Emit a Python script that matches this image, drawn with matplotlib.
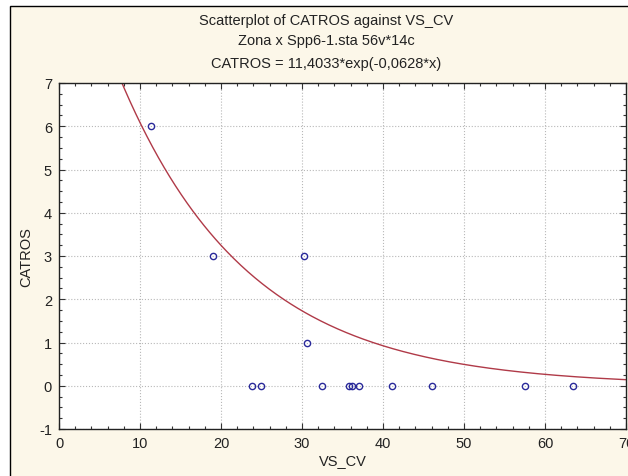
import numpy as np
import matplotlib.pyplot as plt
from matplotlib.patches import Rectangle
from matplotlib.ticker import MultipleLocator

plt.rcParams['font.family'] = ['Liberation Sans', 'DejaVu Sans']
plt.rcParams['axes.unicode_minus'] = False

# cases read from the worksheet
vs_cv = [11.3, 19.0, 30.3, 30.6, 23.8, 24.9, 32.5, 35.8, 36.2, 37.0, 41.1, 46.0, 57.5, 63.4]
catros = [6, 3, 3, 1, 0, 0, 0, 0, 0, 0, 0, 0, 0, 0]

# fitted exponential model
a_coef = 11.4033
b_coef = -0.0628

fig = plt.figure(figsize=(6.28, 4.77), dpi=100, facecolor='white')
W, H = 628, 477

# cream panel with black frame, kept behind the axes
frame = Rectangle((10 / W, -0.01), 1.0, (477 - 7) / H + 0.01, transform=fig.transFigure,
                  facecolor='#fcf7e9', edgecolor='black', linewidth=1.0, zorder=-10)
fig.patches.append(frame)

ax = fig.add_axes([59 / W, (H - 430) / H, (626 - 59) / W, (430 - 84) / H])
ax.set_facecolor('white')

xs = np.linspace(0, 70, 400)
ax.plot(xs, a_coef * np.exp(b_coef * xs), color='#b03a48', linewidth=1.0, zorder=2)
ax.plot(vs_cv, catros, linestyle='none', marker='o', markersize=4.5,
        markerfacecolor='none', markeredgecolor='#2a2a9a', markeredgewidth=1.0, zorder=3)

ax.set_xlim(0, 70)
ax.set_ylim(-1, 7)
ax.xaxis.set_major_locator(MultipleLocator(10))
ax.xaxis.set_minor_locator(MultipleLocator(2))
ax.yaxis.set_major_locator(MultipleLocator(1))
ax.yaxis.set_minor_locator(MultipleLocator(0.25))
ax.tick_params(which='both', direction='in', top=True, right=True, colors='#333333',
               labelcolor='#222222', labelsize=10.5)
ax.tick_params(which='major', length=4, width=0.8, pad=5)
ax.tick_params(which='minor', length=2.5, width=0.8)
ax.grid(True, which='major', linestyle=':', color='#b8b8b8', linewidth=0.8)
for s in ax.spines.values():
    s.set_color('#222222')
    s.set_linewidth(1.0)

ax.set_xlabel('VS_CV', fontsize=10.5, color='#222222', labelpad=2)
ax.set_ylabel('CATROS', fontsize=10.5, color='#222222', labelpad=4)

fig.text(326 / W, 1 - 21 / H, 'Scatterplot of CATROS against VS_CV', ha='center', va='center',
         fontsize=10.5, color='#222222')
fig.text(326 / W, 1 - 41 / H, 'Zona x Spp6-1.sta 56v*14c', ha='center', va='center',
         fontsize=10.5, color='#222222')
fig.text(326 / W, 1 - 64 / H, 'CATROS = 11,4033*exp(-0,0628*x)', ha='center', va='center',
         fontsize=10.5, color='#222222')

fig.savefig('out.png', dpi=100, facecolor=fig.get_facecolor())
